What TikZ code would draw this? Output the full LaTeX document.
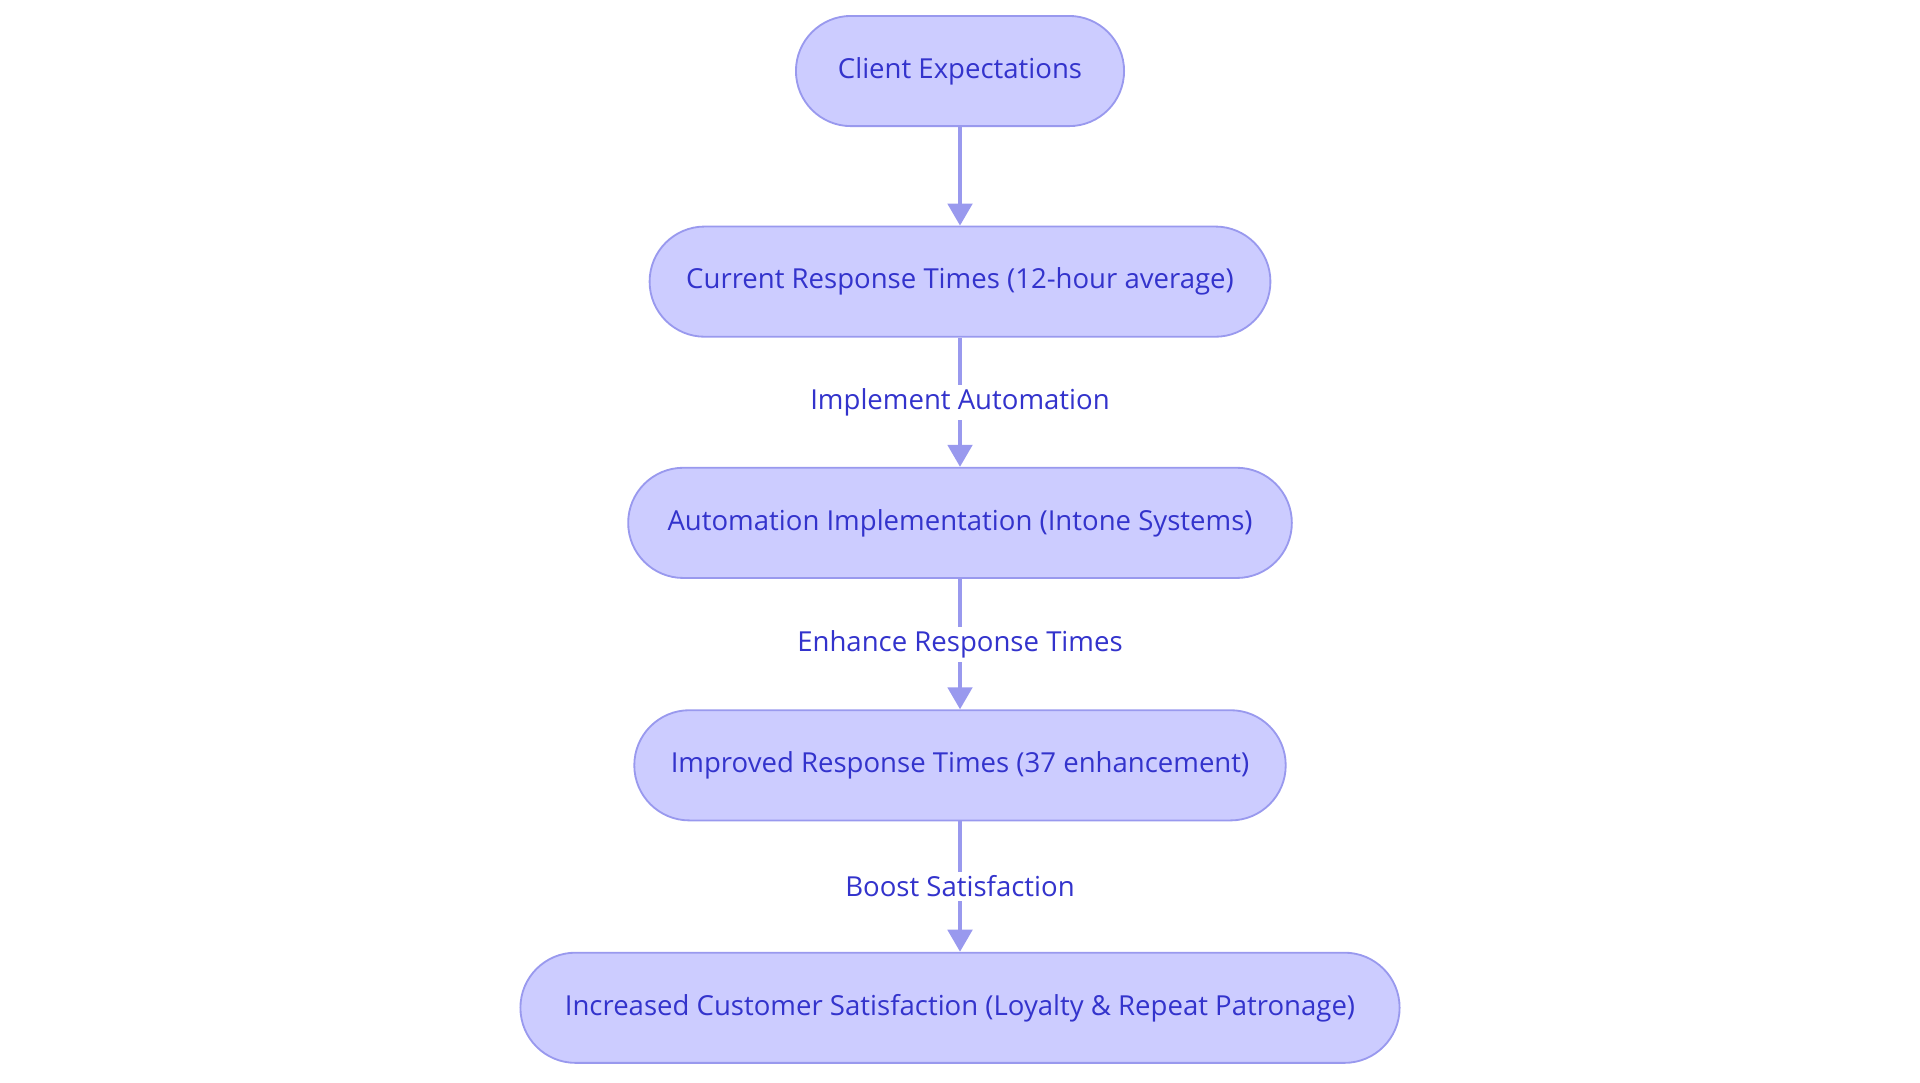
\documentclass[tikz,border=0pt]{standalone}
\usepackage{fontspec}
\setmainfont{Open Sans}
\usetikzlibrary{arrows.meta}
\definecolor{nfill}{HTML}{CCCCFF}
\definecolor{nline}{HTML}{9999EE}
\definecolor{ntext}{HTML}{3333CC}
\begin{document}
\begin{tikzpicture}[x=1pt,y=-1pt,
  box/.style={draw=nline,fill=nfill,line width=1.5pt,rounded corners=45pt,minimum height=90pt,text=ntext,font=\fontsize{22.5}{26}\selectfont,inner sep=0pt},
  lab/.style={fill=white,text=ntext,font=\fontsize{22.5}{26}\selectfont,inner sep=3pt},
  arr/.style={draw=nline,line width=3pt,-{Triangle[length=18pt,width=20pt]}}]
\useasboundingbox (0,0) rectangle (1568,884);
\node[box,minimum width=268pt] (a) at (784,58) {Client Expectations};
\node[box,minimum width=507pt] (b) at (784,230) {Current Response Times (12-hour average)};
\node[box,minimum width=542pt] (c) at (784,427) {Automation Implementation (Intone Systems)};
\node[box,minimum width=532pt] (d) at (784,625) {Improved Response Times (37 enhancement)};
\node[box,minimum width=718pt] (e) at (784,823) {Increased Customer Satisfaction (Loyalty \& Repeat Patronage)};
\draw[arr] (a) -- (b);
\draw[arr] (b) -- node[lab] {Implement Automation} (c);
\draw[arr] (c) -- node[lab] {Enhance Response Times} (d);
\draw[arr] (d) -- node[lab] {Boost Satisfaction} (e);
\end{tikzpicture}
\end{document}
